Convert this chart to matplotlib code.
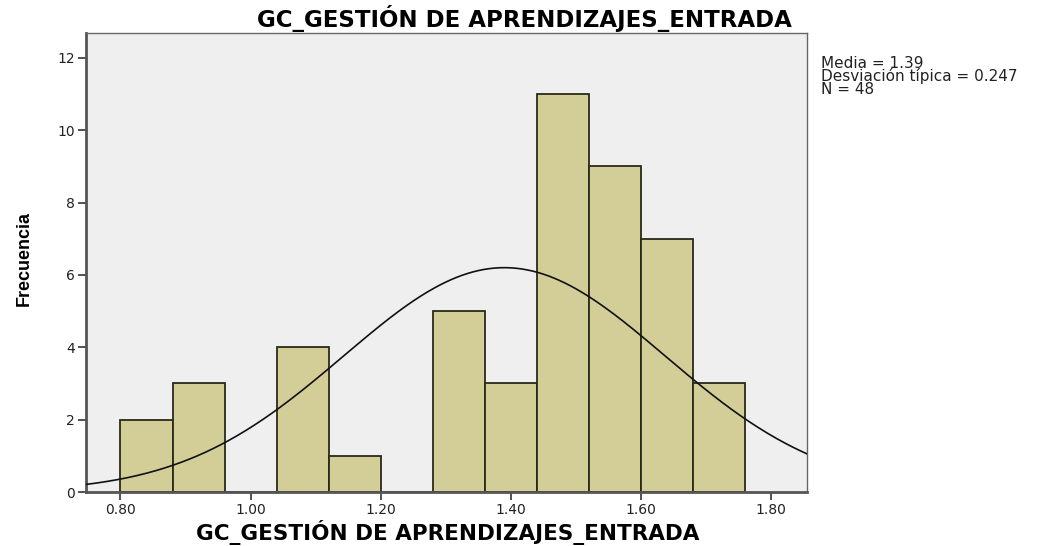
import numpy as np
import matplotlib
matplotlib.use("Agg")
import matplotlib.pyplot as plt

bin_edges = [0.80, 0.88, 0.96, 1.04, 1.12, 1.20, 1.28, 1.36, 1.44, 1.52, 1.60, 1.68, 1.76]
counts = [2, 3, 0, 4, 1, 0, 5, 3, 11, 9, 7, 3]
mean = 1.39
sd = 0.247
n = 48
x_ticks = [0.80, 1.00, 1.20, 1.40, 1.60, 1.80]
x_ticklabels = ["0.80", "1.00", "1.20", "1.40", "1.60", "1.80"]
y_ticks = [0, 2, 4, 6, 8, 10, 12]
title = "GC_GESTIÓN DE APRENDIZAJES_ENTRADA"
ylabel = "Frecuencia"
stats = "Media = 1.39\nDesviación típica = 0.247\nN = 48"

plt.rcParams['font.family'] = ['DejaVu Sans']

fig = plt.figure(figsize=(10.37, 5.46), dpi=100)
ax = fig.add_axes([0.0829, 0.0989, 0.6953, 0.8407])
ax.set_facecolor('#EFEFEF')

edges = np.array(bin_edges)
widths = np.diff(edges)
ax.bar(edges[:-1], counts, width=widths, align='edge', color='#D3CE97',
       edgecolor='#2a2a1a', linewidth=1.3, zorder=2)

xs = np.linspace(0.747, 1.855, 400)
binw = widths[0]
ys = n * binw / (sd * np.sqrt(2 * np.pi)) * np.exp(-0.5 * ((xs - mean) / sd) ** 2)
ax.plot(xs, ys, color='#111111', linewidth=1.2, zorder=3)

ax.set_xlim(0.747, 1.855)
ax.set_ylim(0, 12.69)
ax.set_xticks(x_ticks)
ax.set_xticklabels(x_ticklabels)
ax.set_yticks(y_ticks)
ax.tick_params(axis='both', direction='out', length=6, width=1.2, color='#333333',
               labelsize=10, labelcolor='#222222', pad=2)
for s in ax.spines.values():
    s.set_color('#666666')
    s.set_linewidth(1.0)
ax.spines['left'].set_linewidth(2.0)
ax.spines['bottom'].set_linewidth(2.0)
ax.spines['left'].set_color('#555555')
ax.spines['bottom'].set_color('#555555')

fig.text(0.506, 0.966, title, fontsize=16.5, fontweight='bold', ha='center', va='center')
fig.text(0.432, 0.024, title, fontsize=15.5, fontweight='bold', ha='center', va='center')
fig.text(0.023, 0.526, ylabel, fontsize=13, fontweight='bold', rotation=90,
         family=['Liberation Sans'], ha='center', va='center')

fig.text(0.792, 0.897, stats, fontsize=11, va='top', ha='left',
         linespacing=0.78, color='#222222')

fig.savefig("out.png", dpi=100, facecolor='white')
